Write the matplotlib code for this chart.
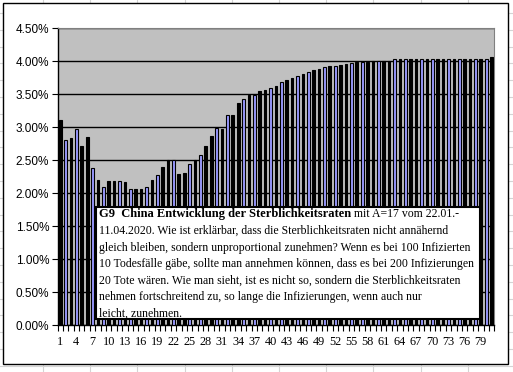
import matplotlib.pyplot as plt
import matplotlib.patches as mp
import matplotlib.lines as ml
import numpy as np

# Sterblichkeitsrate in % pro Tag (22.01. - 11.04.2020)
rates = [3.11, 2.80, 2.83, 2.98, 2.72, 2.85, 2.38, 2.20, 2.10, 2.18,
         2.18, 2.18, 2.17, 2.07, 2.06, 2.07, 2.10, 2.20, 2.28, 2.40,
         2.51, 2.50, 2.29, 2.31, 2.44, 2.51, 2.58, 2.72, 2.86, 2.99,
         2.97, 3.18, 3.18, 3.37, 3.43, 3.49, 3.49, 3.55, 3.57, 3.59,
         3.63, 3.69, 3.72, 3.75, 3.77, 3.81, 3.84, 3.87, 3.89, 3.91,
         3.93, 3.93, 3.94, 3.96, 3.97, 3.99, 3.99, 3.99, 4.00, 4.01,
         4.01, 4.01, 4.03, 4.03, 4.03, 4.03, 4.03, 4.03, 4.03, 4.03,
         4.03, 4.03, 4.03, 4.03, 4.03, 4.03, 4.03, 4.03, 4.03, 4.03,
         4.06]
days = list(range(1, len(rates) + 1))
tick_days = days[::3]

title_bold = "G9  China Entwicklung der Sterblichkeitsraten"
title_rest = " mit A=17 vom 22.01.-"
note_lines = [
    "11.04.2020. Wie ist erklärbar, dass die Sterblichkeitsraten nicht annähernd",
    "gleich bleiben, sondern unproportional zunehmen? Wenn es bei 100 Infizierten",
    "10 Todesfälle gäbe, sollte man annehmen können, dass es bei 200 Infizierungen",
    "20 Tote wären. Wie man sieht, ist es nicht so, sondern die Sterblichkeitsraten",
    "nehmen fortschreitend zu, so lange die Infizierungen, wenn auch nur",
    "leicht, zunehmen.",
]

# bars that show their blue fill at this resolution
blue_days = [2, 4, 7, 9, 12, 14, 17, 19, 22, 25, 27, 30, 32, 35, 37, 40, 42,
             45, 47, 50, 52, 55, 57, 60, 63, 65, 68, 70, 73, 75, 78, 80]

W, H = 513, 372
fig = plt.figure(figsize=(W / 100, H / 100), dpi=100)
fig.patch.set_facecolor("white")

def fx(px):
    return px / W

def fy(py):
    return 1 - py / H

# spreadsheet cell lines behind the chart
for x in np.arange(43, W, 47.2):
    fig.add_artist(ml.Line2D([fx(x), fx(x)], [0, 1], color="#d4d4d4", lw=0.8, zorder=0))
for y in np.arange(13, H, 16.8):
    fig.add_artist(ml.Line2D([0, 1], [fy(y), fy(y)], color="#d4d4d4", lw=0.8, zorder=0))

# chart area
fig.add_artist(mp.Rectangle((fx(3), fy(364)), fx(505), 361 / H, facecolor="white",
                            edgecolor="black", lw=1.0, zorder=1))

ax = fig.add_axes([fx(57.5), fy(325), fx(494.3 - 57.5), (325 - 28.3) / H], zorder=2)
ax.set_facecolor("#C0C0C0")

colors = ["#9999FF" if d in blue_days else "black" for d in days]
ax.bar(days, rates, width=0.5, color=colors, edgecolor="black", linewidth=0.8, zorder=3)

ax.set_xlim(0.5, len(rates) + 0.5)
ax.set_ylim(0, 4.5)
ax.set_yticks(np.arange(0, 4.51, 0.5))
ax.set_yticklabels([f"{v:.2f}%" for v in np.arange(0, 4.51, 0.5)],
                   fontsize=8.5, family="Liberation Sans")
ax.yaxis.grid(True, color="black", lw=1.0, zorder=1)
ax.set_axisbelow(True)

ax.set_xticks(tick_days)
ax.set_xticklabels([str(d) for d in tick_days], fontsize=8.8, family="Liberation Serif")
ax.set_xticks(np.arange(0.5, len(rates) + 1), minor=True)
ax.tick_params(axis="x", which="major", length=0, pad=8)
ax.tick_params(axis="x", which="minor", length=4, width=0.8, direction="out")
ax.tick_params(axis="y", length=4, width=0.8, direction="out", pad=2)

for s in ["top", "right"]:
    ax.spines[s].set_color("#808080")
    ax.spines[s].set_linewidth(0.8)
for s in ["left", "bottom"]:
    ax.spines[s].set_color("black")
    ax.spines[s].set_linewidth(1.0)

# text box
fig.add_artist(mp.Rectangle((fx(96), fy(319)), fx(480 - 96), (319 - 207) / H,
                            facecolor="white", edgecolor="black", lw=1.5, zorder=5))
fs_bold = 9.0
fs = 8.5
line_y = [214, 231, 247.5, 264, 280.5, 297, 314]
t1 = fig.text(fx(99), fy(line_y[0]), title_bold, fontsize=fs_bold, family="Liberation Serif",
              fontweight="bold", va="center", ha="left", zorder=6)
fig.canvas.draw()
bb = t1.get_window_extent()
fig.text(bb.x1 / W, fy(line_y[0]), title_rest, fontsize=fs, family="Liberation Serif",
         va="center", ha="left", zorder=6)
for ly, txt in zip(line_y[1:], note_lines):
    fig.text(fx(99), fy(ly), txt, fontsize=fs, family="Liberation Serif",
             va="center", ha="left", zorder=6)

fig.savefig("out.png", dpi=100)
